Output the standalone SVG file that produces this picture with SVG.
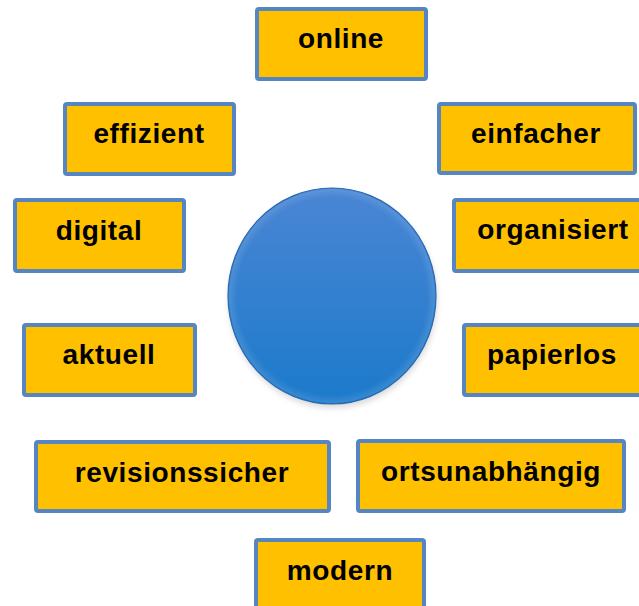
<svg xmlns="http://www.w3.org/2000/svg" width="639" height="606" viewBox="0 0 639 606">
<style>
.box{fill:#FFC000;stroke:#5686C2;stroke-width:4}
.lbl{font-family:"Liberation Sans",Arial,sans-serif;font-weight:bold;font-size:28px;letter-spacing:0.6px;fill:#000;text-anchor:middle}
</style>
<defs>
<linearGradient id="cg" x1="0" y1="0" x2="0" y2="1">
<stop offset="0" stop-color="#4A86D4"/>
<stop offset="1" stop-color="#1C7ACB"/>
</linearGradient>
<radialGradient id="bev" cx="0.5" cy="0.5" r="0.5">
<stop offset="0.92" stop-color="#ffffff" stop-opacity="0"/>
<stop offset="1" stop-color="#ffffff" stop-opacity="0.12"/>
</radialGradient>
<filter id="sh" x="-20%" y="-20%" width="140%" height="140%">
<feGaussianBlur stdDeviation="3"/>
</filter>
</defs>
<rect width="639" height="606" fill="#fff"/>
<g id="center">
<ellipse cx="333" cy="300" rx="104" ry="108" fill="#000" opacity="0.15" filter="url(#sh)"/>
<ellipse cx="332" cy="296" rx="104" ry="108" fill="url(#cg)" stroke="#2A69B2" stroke-width="1.2"/>
<ellipse cx="332" cy="296" rx="103" ry="107" fill="url(#bev)"/>
</g>
<g id="connectors"></g>
<g id="online"><rect class="box" x="257" y="9" width="169" height="70" rx="2"/><text class="lbl" x="341" y="48">online</text></g>
<g id="effizient"><rect class="box" x="65" y="104" width="169" height="70" rx="2"/><text class="lbl" x="149" y="143">effizient</text></g>
<g id="einfacher"><rect class="box" x="439" y="104" width="196" height="69" rx="2"/><text class="lbl" x="536" y="143">einfacher</text></g>
<g id="digital"><rect class="box" x="15" y="200" width="169" height="71" rx="2"/><text class="lbl" x="99" y="240">digital</text></g>
<g id="organisiert"><rect class="box" x="454" y="200" width="200" height="71" rx="2"/><text class="lbl" x="553" y="239">organisiert</text></g>
<g id="aktuell"><rect class="box" x="24" y="325" width="171" height="70" rx="2"/><text class="lbl" x="109" y="364">aktuell</text></g>
<g id="papierlos"><rect class="box" x="464" y="325" width="178" height="70" rx="2"/><text class="lbl" x="552" y="364">papierlos</text></g>
<g id="revisionssicher"><rect class="box" x="36" y="442" width="293" height="69" rx="2"/><text class="lbl" x="182" y="482">revisionssicher</text></g>
<g id="ortsunabhaengig"><rect class="box" x="358" y="441" width="266" height="70" rx="2"/><text class="lbl" x="491" y="481">ortsunabhängig</text></g>
<g id="modern"><rect class="box" x="256" y="540" width="168" height="70" rx="2"/><text class="lbl" x="340" y="580">modern</text></g>
</svg>
